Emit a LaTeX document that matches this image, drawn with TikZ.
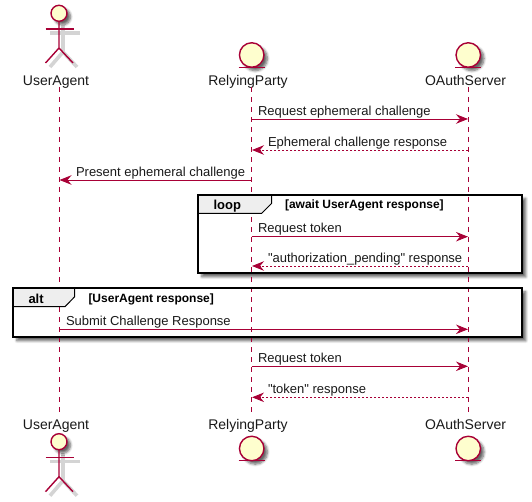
\documentclass[tikz,border=0pt]{standalone}
\usepackage{fontspec}
\setmainfont{Liberation Sans}[Ligatures=ResetAll]
\newcommand{\plainquote}{\XeTeXglyph\XeTeXcharglyph"22 }
\definecolor{umlred}{RGB}{168,0,54}
\definecolor{umlcream}{RGB}{254,254,206}
\definecolor{umltab}{RGB}{238,238,238}
\usetikzlibrary{arrows.meta,shadows.blur}

\begin{document}
\begin{tikzpicture}[
  x=1pt,y=-1pt,
  every node/.style={inner sep=0pt,outer sep=0pt},
  partlabel/.style={font=\fontsize{14}{16}\selectfont,text=black!90,anchor=base},
  msglabel/.style={font=\fontsize{13}{15}\selectfont,text=black!90,anchor=base west},
  frametitle/.style={font=\fontsize{13}{15}\selectfont\bfseries,anchor=base west},
  framecond/.style={font=\fontsize{12}{14}\selectfont\bfseries,anchor=base west},
  softshadow/.style={blur shadow={shadow xshift=3.5pt,shadow yshift=-3.5pt,shadow blur radius=2.5pt,shadow blur steps=6,shadow opacity=60}},
  framebox/.style={rectangle,fill=white,softshadow},
  framepen/.style={draw=black,line width=2.2pt},
  tabshape/.style={draw=black,line width=1pt,fill=umltab},
  lifeline/.style={draw=umlred,line width=0.9pt,dash pattern=on 5pt off 5pt},
  actorhead/.style={circle,draw=umlred,fill=umlcream,line width=1.4pt,minimum size=16pt,softshadow},
  entityhead/.style={circle,draw=umlred,fill=umlcream,line width=1.4pt,minimum size=24.5pt,softshadow},
  umlpen/.style={draw=umlred,line width=1.4pt},
  limbshadow/.style={draw=black!17,line width=3.6pt},
  sendmsg/.style={draw=umlred,line width=0.9pt,-{Stealth[length=12pt,width=9.5pt,inset=4pt]}},
  replymsg/.style={draw=umlred,line width=0.9pt,dash pattern=on 2pt off 2pt,-{Stealth[length=12pt,width=9.5pt,inset=4pt]}},
]
  \useasboundingbox (0,0) rectangle (532,502);

  % Participant names
  \node[partlabel] (uatop) at (56,85.8) {UserAgent};
  \node[partlabel] (rptop) at (248,85.8) {RelyingParty};
  \node[partlabel] (astop) at (465.5,85.8) {OAuthServer};
  \node[partlabel] (uabot) at (56,429.3) {UserAgent};
  \node[partlabel] (rpbot) at (248,429.3) {RelyingParty};
  \node[partlabel] (asbot) at (465.5,429.3) {OAuthServer};

  % Frames, under the lifelines
  \node[framebox,minimum width=324pt,minimum height=78.3pt] (loopframe) at (360.3,234.2) {};
  \node[framebox,minimum width=509pt,minimum height=49pt] (altframe) at (267.8,312.8) {};

  % Lifelines
  \coordinate (ua1) at (59,87);  \coordinate (ua2) at (59,413);
  \coordinate (rp1) at (251.5,87); \coordinate (rp2) at (251.5,413);
  \coordinate (as1) at (468.3,87); \coordinate (as2) at (468.3,413);
  \draw[lifeline] (ua1) -- (ua2);
  \draw[lifeline] (rp1) -- (rp2);
  \draw[lifeline] (as1) -- (as2);

  % Frame tabs and borders
  \draw[tabshape] (loopframe.north west) -- (271.7,195) -- (271.7,203.3) -- (261.7,213.3) -- (198.3,213.3) -- cycle;
  \draw[framepen] (loopframe.north west) rectangle (loopframe.south east);
  \node[frametitle] (looptitle) at (213.5,210) {loop};
  \node[framecond] (loopcond) at (285,209) {[await UserAgent response]};
  \draw[tabshape] (altframe.north west) -- (74.7,288.3) -- (74.7,296.7) -- (65,306.7) -- (13.3,306.7) -- cycle;
  \draw[framepen] (altframe.north west) rectangle (altframe.south east);
  \node[frametitle] (alttitle) at (28.5,303.5) {alt};
  \node[framecond] (altcond) at (88.5,302.5) {[UserAgent response]};

  % Top actor
  \coordinate (uahip) at (59,48);
  \draw[limbshadow] (50,33) -- (80,33);
  \draw[limbshadow] (63,25) -- (63,52) -- (50,67);
  \draw[limbshadow] (63,52) -- (77,67);
  \node[actorhead] (uahead) at (59,13.3) {};
  \draw[umlpen] (uahead.south) -- (uahip) -- ++(-13.5,15);
  \draw[umlpen] (uahip) -- ++(14,15);
  \draw[umlpen] (45.5,29) -- (73.5,29);

  % Bottom actor
  \coordinate (ubhip) at (59,476.7);
  \draw[limbshadow] (50,461.3) -- (80,461.3);
  \draw[limbshadow] (63,453) -- (63,480.7) -- (50,495.7);
  \draw[limbshadow] (63,480.7) -- (77,495.7);
  \node[actorhead] (ubhead) at (59,441.7) {};
  \draw[umlpen] (ubhead.south) -- (ubhip) -- ++(-13.5,15);
  \draw[umlpen] (ubhip) -- ++(14,15);
  \draw[umlpen] (45.5,457.3) -- (73.5,457.3);

  % Entities
  \node[entityhead] (rphead) at (251.7,55) {};
  \draw[umlpen] ([xshift=-13pt]rphead.south) -- ([xshift=13pt]rphead.south);
  \node[entityhead] (ashead) at (468.3,55) {};
  \draw[umlpen] ([xshift=-13pt]ashead.south) -- ([xshift=13pt]ashead.south);
  \node[entityhead] (rbhead) at (251.7,448.5) {};
  \draw[umlpen] ([xshift=-13pt]rbhead.south) -- ([xshift=13pt]rbhead.south);
  \node[entityhead] (abhead) at (468.3,448.5) {};
  \draw[umlpen] ([xshift=-13pt]abhead.south) -- ([xshift=13pt]abhead.south);

  % Message ends
  \coordinate (m1a) at (251.5,119);   \coordinate (m1b) at (468,119);
  \coordinate (m2a) at (468,150);     \coordinate (m2b) at (252,150);
  \coordinate (m3a) at (251.5,180);   \coordinate (m3b) at (59.5,180);
  \coordinate (m4a) at (251.5,236.7); \coordinate (m4b) at (468,236.7);
  \coordinate (m5a) at (468,266);     \coordinate (m5b) at (252,266);
  \coordinate (m6a) at (59,329.3);    \coordinate (m6b) at (468,329.3);
  \coordinate (m7a) at (251.5,366.3); \coordinate (m7b) at (468,366.3);
  \coordinate (m8a) at (468,397.3);   \coordinate (m8b) at (252,397.3);

  % Messages
  \draw[sendmsg] (m1a) -- (m1b);
  \draw[replymsg] (m2a) -- (m2b);
  \draw[sendmsg] (m3a) -- (m3b);
  \draw[sendmsg] (m4a) -- (m4b);
  \draw[replymsg] (m5a) -- (m5b);
  \draw[sendmsg] (m6a) -- (m6b);
  \draw[sendmsg] (m7a) -- (m7b);
  \draw[replymsg] (m8a) -- (m8b);

  % Message labels
  \node[msglabel] (t1) at (258,115.3) {Request ephemeral challenge};
  \node[msglabel] (t2) at (268,146.3) {Ephemeral challenge response};
  \node[msglabel] (t3) at (76,176.3) {Present ephemeral challenge};
  \node[msglabel] (t4) at (258,233) {Request token};
  \node[msglabel] (t5) at (268,262.3) {\plainquote authorization\_pending\plainquote{} response};
  \node[msglabel] (t6) at (66,325.6) {Submit Challenge Response};
  \node[msglabel] (t7) at (258,362.6) {Request token};
  \node[msglabel] (t8) at (268,393.6) {\plainquote token\plainquote{} response};
\end{tikzpicture}
\end{document}
